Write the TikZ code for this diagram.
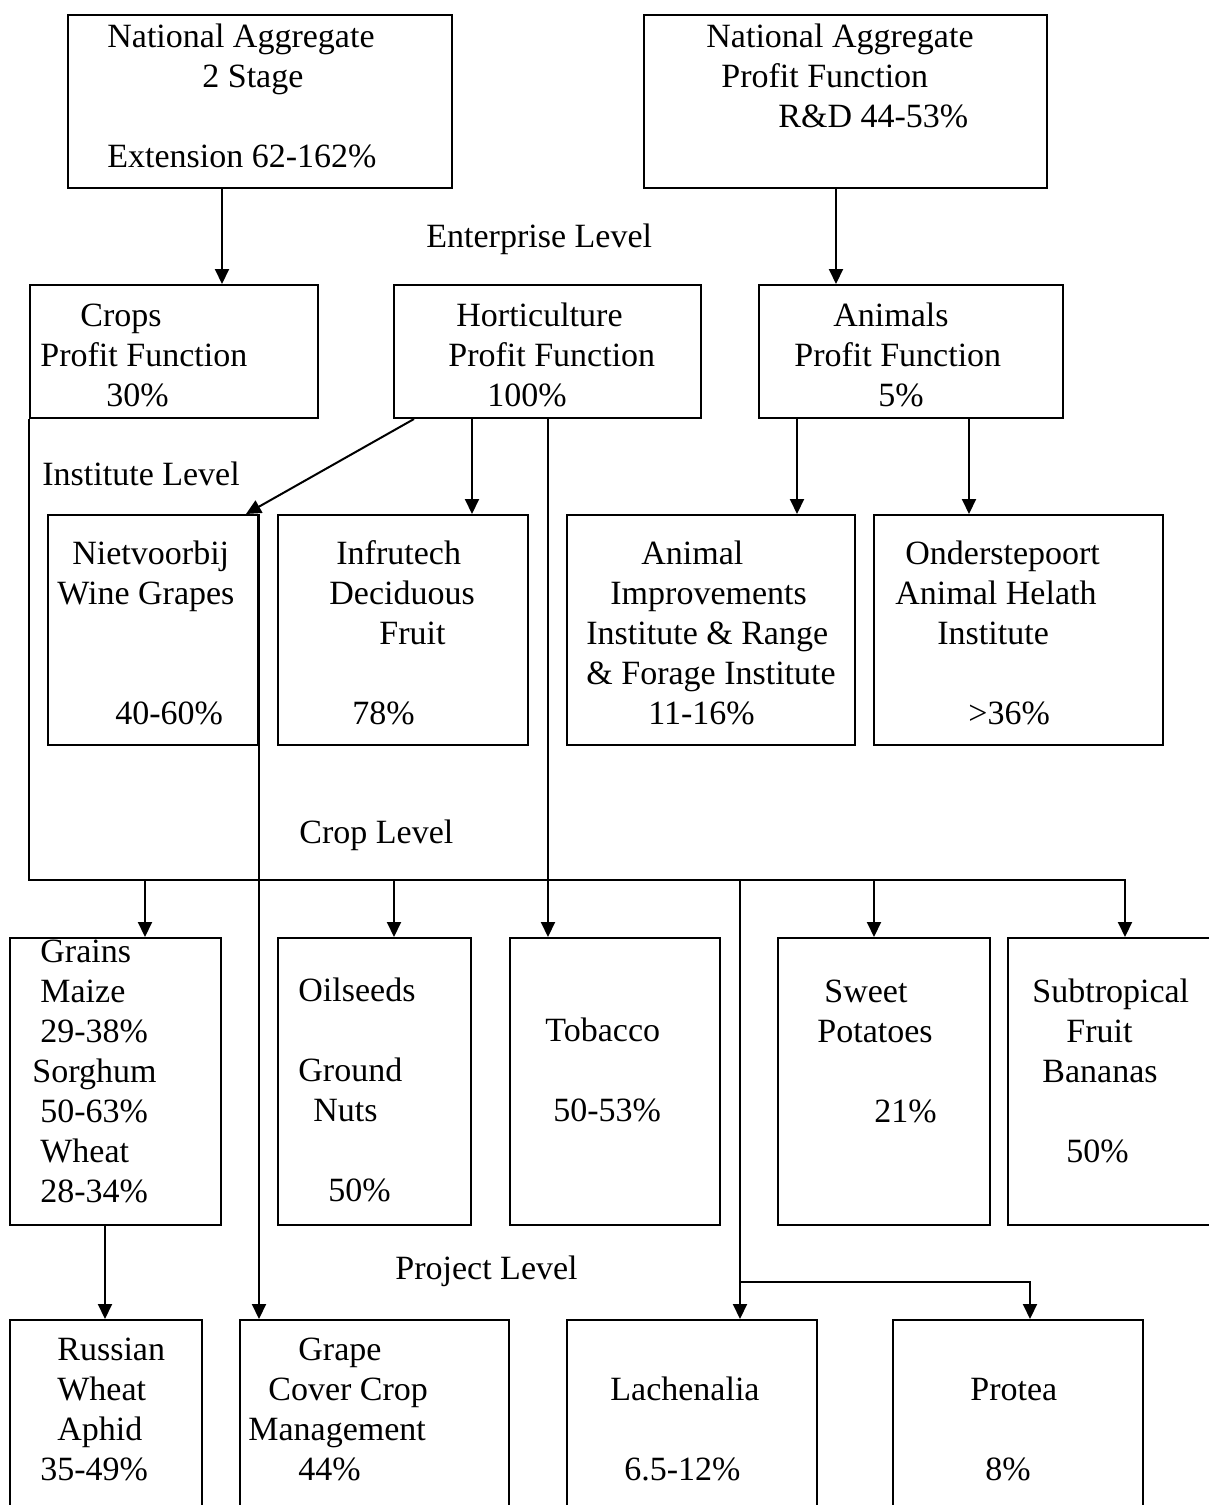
\documentclass[tikz,border=0pt]{standalone}
\usepackage{fontspec}
\setmainfont{Liberation Serif}
\usetikzlibrary{arrows.meta,fit}

\begin{document}
\begin{tikzpicture}[x=0.5pt, y=-0.5pt,
  every node/.style={font=\fontsize{17}{20}\selectfont},
  box/.style={draw, line width=1pt, inner sep=0pt},
  txt/.style={anchor=north west, inner sep=0pt, align=left},
  lev/.style={anchor=base west, inner sep=0pt},
  arr/.style={-{Triangle[length=7.5pt, width=7pt]}, line width=1pt}]
  \useasboundingbox (0,0) rectangle (1209,1505);
  \clip (0,0) rectangle (1209,1505);

  % boxes
  \node[box, fit={(68,15) (452,188)}] (natext) {};
  \node[box, fit={(644,15) (1047,188)}] (natpf) {};
  \node[box, fit={(30,285) (318,418)}] (crops) {};
  \node[box, fit={(394,285) (701,418)}] (hort) {};
  \node[box, fit={(759,285) (1063,418)}] (anim) {};
  \node[box, fit={(48,515) (258,745)}] (niet) {};
  \node[box, fit={(278,515) (528,745)}] (infru) {};
  \node[box, fit={(567,515) (855,745)}] (animp) {};
  \node[box, fit={(874,515) (1163,745)}] (onder) {};
  \node[box, fit={(10,938) (221,1225)}] (grains) {};
  \node[box, fit={(278,938) (471,1225)}] (oilseed) {};
  \node[box, fit={(510,938) (720,1225)}] (tobacco) {};
  \node[box, fit={(778,938) (990,1225)}] (sweetp) {};
  \node[box, fit={(1008,938) (1240,1225)}] (subtrop) {};
  \node[box, fit={(10,1320) (202,1540)}] (rwa) {};
  \node[box, fit={(240,1320) (509,1540)}] (grape) {};
  \node[box, fit={(567,1320) (817,1540)}] (lachen) {};
  \node[box, fit={(893,1320) (1143,1540)}] (protea) {};

  % box texts
  \node[txt] (natext-t) at (107,19) {\strut National Aggregate\\\hspace*{47.5pt}2 Stage\\[20pt]Extension 62-162\%};
  \node[txt] (natpf-t) at (706,19) {\strut National Aggregate\\\hspace*{7.5pt}Profit Function\\\hspace*{36pt}R\&D 44-53\%};
  \node[txt] (crops-t) at (40,298) {\strut\hspace*{20pt}Crops\\Profit Function\\\hspace*{33pt}30\%};
  \node[txt] (hort-t) at (448,298) {\strut\hspace*{4pt}Horticulture\\Profit Function\\\hspace*{19.5pt}100\%};
  \node[txt] (anim-t) at (794,298) {\strut\hspace*{19.5pt}Animals\\Profit Function\\\hspace*{42pt}5\%};
  \node[txt] (niet-t) at (57,536) {\strut\hspace*{7.5pt}Nietvoorbij\\Wine Grapes\\[40pt]\hspace*{29pt}40-60\%};
  \node[txt] (infru-t) at (329,536) {\strut\hspace*{3.5pt}Infrutech\\Deciduous\\\hspace*{25pt}Fruit\\[20pt]\hspace*{11.5pt}78\%};
  \node[txt] (animp-t) at (586,536) {\strut\hspace*{27.5pt}Animal\\\hspace*{12pt}Improvements\\Institute \& Range\\\& Forage Institute\\\hspace*{31pt}11-16\%};
  \node[txt] (onder-t) at (895,536) {\strut\hspace*{5pt}Onderstepoort\\Animal Helath\\\hspace*{21pt}Institute\\[20pt]\hspace*{36.5pt}>36\%};
  \node[txt] (grains-t) at (32,934) {\strut\hspace*{4pt}Grains\\\hspace*{4pt}Maize\\\hspace*{4pt}29-38\%\\Sorghum\\\hspace*{4pt}50-63\%\\\hspace*{4pt}Wheat\\\hspace*{4pt}28-34\%};
  \node[txt] (oilseed-t) at (298,973) {\strut Oilseeds\\[20pt]Ground\\\hspace*{7.5pt}Nuts\\[20pt]\hspace*{15pt}50\%};
  \node[txt] (tobacco-t) at (545,1013) {\strut Tobacco\\[20pt]\hspace*{4pt}50-53\%};
  \node[txt] (sweetp-t) at (817,974) {\strut\hspace*{3.5pt}Sweet\\Potatoes\\[20pt]\hspace*{28.5pt}21\%};
  \node[txt] (subtrop-t) at (1032,974) {\strut Subtropical\\\hspace*{17pt}Fruit\\\hspace*{5pt}Bananas\\[20pt]\hspace*{17pt}50\%};
  \node[txt] (rwa-t) at (40,1332) {\strut\hspace*{8.5pt}Russian\\\hspace*{8.5pt}Wheat\\\hspace*{8.5pt}Aphid\\35-49\%};
  \node[txt] (grape-t) at (248,1332) {\strut\hspace*{25pt}Grape\\\hspace*{10pt}Cover Crop\\Management\\\hspace*{25pt}44\%};
  \node[txt] (lachen-t) at (610,1372) {\strut Lachenalia\\[20pt]\hspace*{7pt}6.5-12\%};
  \node[txt] (protea-t) at (970,1372) {\strut Protea\\[20pt]\hspace*{7.5pt}8\%};

  % level labels
  \node[lev] (entlev) at (426,247) {Enterprise Level};
  \node[lev] (instlev) at (42,485) {Institute Level};
  \node[lev] (croplev) at (299,843) {Crop Level};
  \node[lev] (projlev) at (395,1279) {Project Level};

  % connector columns
  \coordinate (bus) at (0,880);
  \coordinate (pj) at (740,1282);
  \foreach \n/\x in {a/222, b/836, c/414, d/246, e/472, f/548, g/797, h/969,
                     i/1125, j/145, k/394, l/874, m/740, n/1030, o/105}
    \coordinate (x\n) at (\x,0);

  \draw[arr] (natext.south -| xa) -- (crops.north -| xa);
  \draw[arr] (natpf.south -| xb) -- (anim.north -| xb);
  \draw[arr] (hort.south -| xc) -- (niet.north -| xd);
  \draw[arr] (hort.south -| xe) -- (infru.north -| xe);
  \draw[arr] (hort.south -| xf) -- (tobacco.north -| xf);
  \draw[arr] (anim.south -| xg) -- (animp.north -| xg);
  \draw[arr] (anim.south -| xh) -- (onder.north -| xh);
  \draw[arr] (niet.north east) -- (grape.north -| niet.north east);
  \draw[arr] (crops.south west) |- (bus -| xi) -- (subtrop.north -| xi);
  \draw[arr] (bus -| xj) -- (grains.north -| xj);
  \draw[arr] (bus -| xk) -- (oilseed.north -| xk);
  \draw[arr] (bus -| xl) -- (sweetp.north -| xl);
  \draw[arr] (bus -| xm) -- (lachen.north -| xm);
  \draw[arr] (pj) -| (protea.north -| xn);
  \draw[arr] (grains.south -| xo) -- (rwa.north -| xo);
\end{tikzpicture}
\end{document}
